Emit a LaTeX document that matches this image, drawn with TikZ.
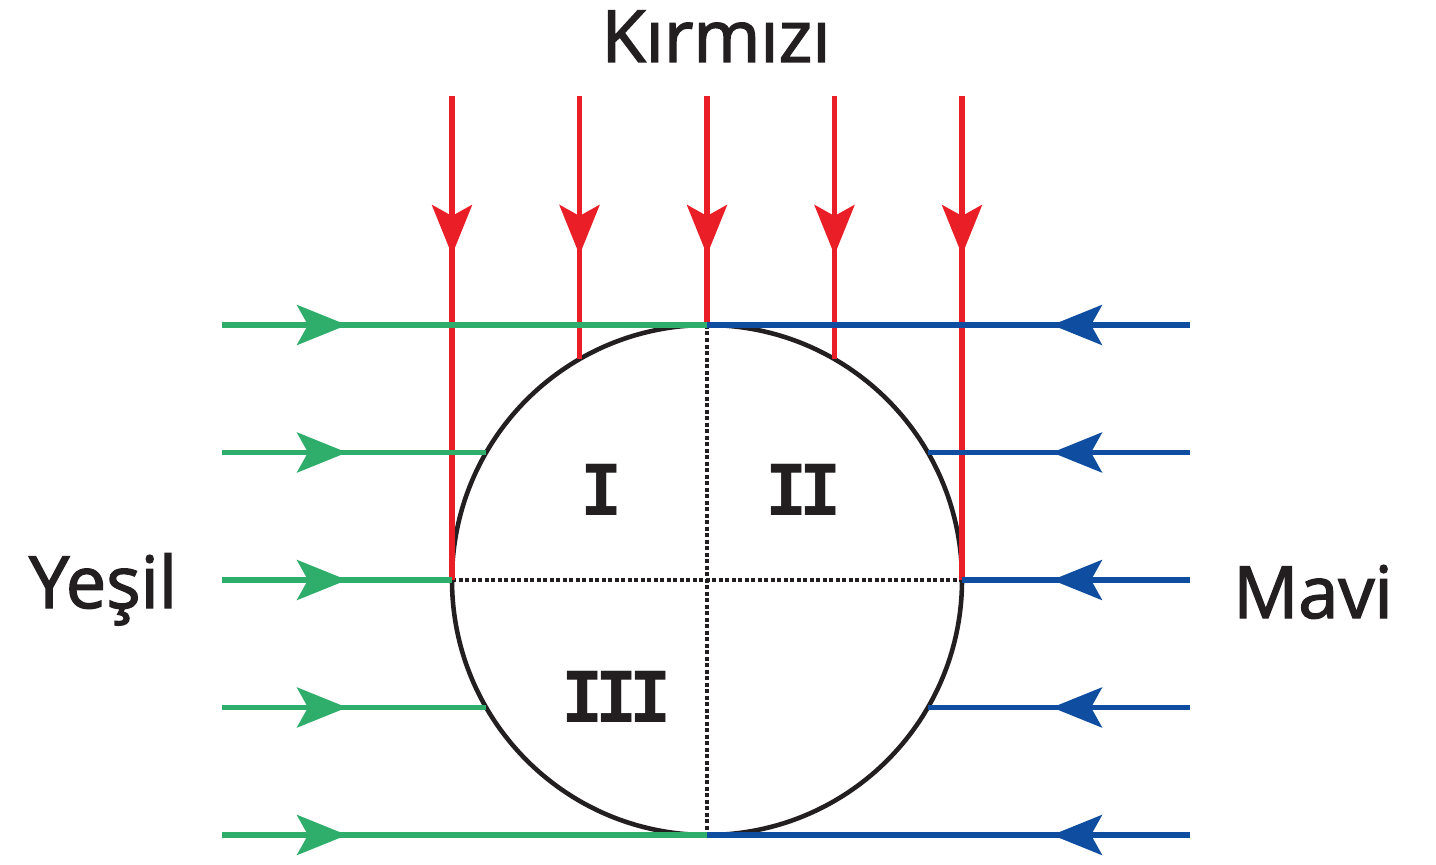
\documentclass[tikz,border=0pt]{standalone}
\usepackage{fontspec}
\setmainfont{Open Sans}
\newfontfamily\labelfont[FakeBold=2]{Open Sans}
\newfontfamily\numfont[LetterSpace=-12]{DejaVu Sans Mono Bold}
\usetikzlibrary{arrows.meta,decorations.markings}
\definecolor{kirmizi}{HTML}{E91E26}
\definecolor{yesil}{HTML}{2EAD6B}
\definecolor{mavi}{HTML}{0E4DA0}
\definecolor{koyu}{HTML}{231F20}
\begin{document}
\begin{tikzpicture}[
    ray/.style={line width=3pt},
    tip at/.style={postaction={decorate}, decoration={markings,
        mark=at position #1 with {\arrow{Stealth[length=1cm, width=0.8cm, inset=0.22cm]}}}},
    red ray/.style={ray, kirmizi, tip at=3.18cm},
    green ray/.style={ray, yesil, tip at=2.5cm},
    blue ray/.style={ray, mavi, tip at=2.76cm},
    axis/.style={koyu, line width=2.5pt, dash pattern=on 0.08cm off 0.05cm},
    label/.style={koyu, anchor=base, font=\fontsize{41}{41}\selectfont\labelfont},
    region/.style={koyu, anchor=base, font=\fontsize{40}{40}\selectfont\numfont}
]
    \useasboundingbox (0,0) rectangle (28.72,17.28);
    % lens and its quadrants
    \node[circle, draw=koyu, line width=2.6pt, minimum size=10.2cm, inner sep=0pt, outer sep=0pt] (C) at (14.14,5.68) {};
    \coordinate (top) at (0,15.36);
    \coordinate (left) at (4.44,0);
    \coordinate (right) at (23.8,0);
    \draw[axis] (C.90) -- (C.270);
    \draw[axis] (C.180) -- (C.0);

    % red rays from above
    \draw[red ray] (C.180 |- top) -- (C.180);
    \draw[red ray] (C.120 |- top) -- (C.120);
    \draw[red ray] (C.90 |- top) -- (C.90);
    \draw[red ray] (C.60 |- top) -- (C.60);
    \draw[red ray] (C.0 |- top) -- (C.0);

    % green rays from the left
    \draw[green ray] (left |- C.90) -- (C.90);
    \draw[green ray] (left |- C.150) -- (C.150);
    \draw[green ray] (left |- C.180) -- (C.180);
    \draw[green ray] (left |- C.210) -- (C.210);
    \draw[green ray] (left |- C.270) -- (C.270);

    % blue rays from the right
    \draw[blue ray] (right |- C.90) -- (C.90);
    \draw[blue ray] (right |- C.30) -- (C.30);
    \draw[blue ray] (right |- C.0) -- (C.0);
    \draw[blue ray] (right |- C.330) -- (C.330);
    \draw[blue ray] (right |- C.270) -- (C.270);

    % labels
    \node[label] (kirmizi) at (14.32,16.04) {Kırmızı};
    \node[label] (yesil) at (2.06,5.12) {Yeşil};
    \node[label] (mavi) at (26.26,4.92) {Mavi};
    \node[region] (I) at (12.04,6.98) {I};
    \node[region] (II) at (16.08,6.98) {II};
    \node[region] (III) at (12.34,2.84) {III};
\end{tikzpicture}
\end{document}
